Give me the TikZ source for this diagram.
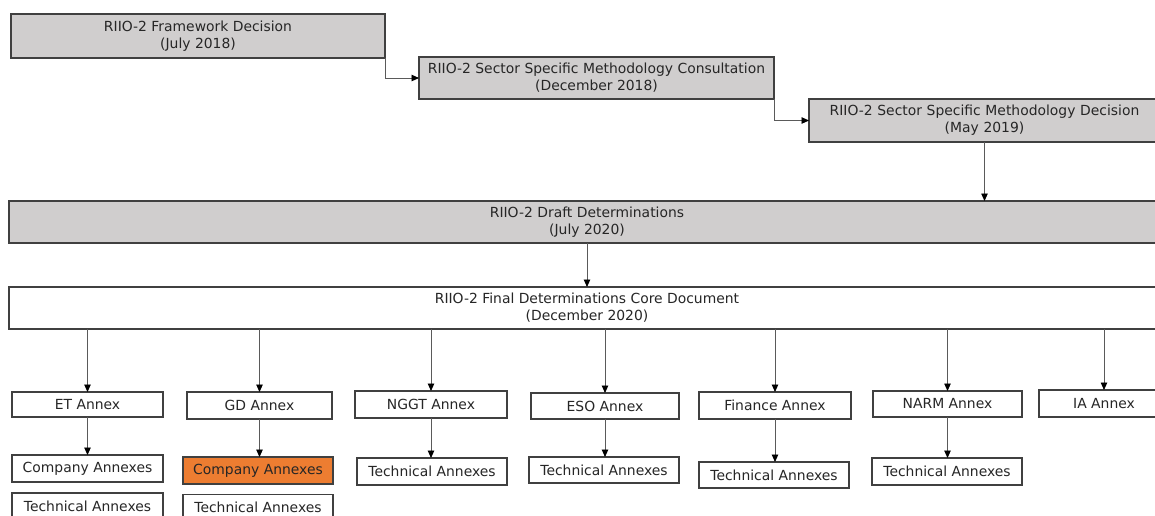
\documentclass[tikz,border=0pt]{standalone}
\usepackage{fontspec}
\setmainfont{DejaVu Sans}
\usetikzlibrary{arrows.meta}
\definecolor{boxgray}{RGB}{208,206,206}
\definecolor{edge}{RGB}{64,64,64}
\definecolor{wire}{RGB}{90,90,90}
\definecolor{txt}{RGB}{38,38,38}
\definecolor{orangefill}{RGB}{237,125,49}
\tikzset{
  bx/.style={draw=edge, line width=1.3pt, rectangle, inner sep=0pt, outer sep=0pt,
    align=center, text=txt, font=\fontsize{13.9}{17}\selectfont},
  graybox/.style={bx, fill=boxgray},
  whitebox/.style={bx, fill=white},
  orangebox/.style={bx, fill=orangefill},
  conn/.style={draw=wire, line width=0.9pt, -{Triangle[length=7.5pt,width=6.5pt,color=black]}},
}
\begin{document}
\begin{tikzpicture}[x=1pt,y=-1pt]
\useasboundingbox (0,0) rectangle (1155,515);
\clip (0,0) rectangle (1155,515);
% top chain
\node[graybox, minimum width=374pt, minimum height=44pt] (fw) at (198,36)
  {RIIO-2 Framework Decision\\(July 2018)};
\node[graybox, minimum width=355pt, minimum height=42pt] (ssmc) at (596.5,78)
  {RIIO-2 Sector Specific Methodology Consultation\\(December 2018)};
\node[graybox, minimum width=351pt, minimum height=43pt, text width=351pt] (ssmd) at (984.5,120.5)
  {RIIO-2 Sector Specific Methodology Decision\\(May 2019)};
\node[graybox, minimum width=1156pt, minimum height=42pt] (draft) at (587,222)
  {RIIO-2 Draft Determinations\\(July 2020)};
\node[whitebox, minimum width=1156pt, minimum height=42pt] (final) at (587,308)
  {RIIO-2 Final Determinations Core Document\\(December 2020)};
% annex row
\node[whitebox, minimum width=151pt, minimum height=25pt] (et) at (87.5,404.5) {ET Annex};
\node[whitebox, minimum width=145pt, minimum height=27pt] (gd) at (259.5,405.5) {GD Annex};
\node[whitebox, minimum width=152pt, minimum height=27pt] (nggt) at (431,404.5) {NGGT Annex};
\node[whitebox, minimum width=148pt, minimum height=26pt] (eso) at (605,406) {ESO Annex};
\node[whitebox, minimum width=152pt, minimum height=27pt] (fin) at (775,405.5) {Finance Annex};
\node[whitebox, minimum width=149pt, minimum height=26pt] (narm) at (947.5,404) {NARM Annex};
\node[whitebox, minimum width=130pt, minimum height=27pt] (ia) at (1104,403.5) {IA Annex};
% second level
\node[whitebox, minimum width=151pt, minimum height=27pt] (etc) at (87.5,468.5) {Company Annexes};
\node[whitebox, minimum width=151pt, minimum height=26pt] (ett) at (87.5,506) {Technical Annexes};
\node[orangebox, minimum width=150pt, minimum height=27pt] (gdc) at (258,470.5) {Company Annexes};
\node[whitebox, minimum width=150pt, minimum height=26pt] (gdt) at (258,507.5) {Technical Annexes};
\node[whitebox, minimum width=150pt, minimum height=27pt] (nggtt) at (432,471.5) {Technical Annexes};
\node[whitebox, minimum width=150pt, minimum height=26pt] (esot) at (604,470) {Technical Annexes};
\node[whitebox, minimum width=150pt, minimum height=26pt] (fint) at (774,475) {Technical Annexes};
\node[whitebox, minimum width=150pt, minimum height=27pt] (narmt) at (947,471.5) {Technical Annexes};
% connectors
\draw[conn] (fw.south east) |- (ssmc.west);
\draw[conn] (ssmc.south east) |- (ssmd.west);
\draw[conn] (ssmd.south) -- (ssmd.south |- draft.north);
\draw[conn] (draft.south) -- (final.north);
\foreach \n in {et,gd,nggt,eso,fin,narm,ia}{
  \draw[conn] (\n.north |- final.south) -- (\n.north);
}
\draw[conn] (et.south) -- (et.south |- etc.north);
\draw[conn] (gd.south) -- (gd.south |- gdc.north);
\draw[conn] (nggt.south) -- (nggt.south |- nggtt.north);
\draw[conn] (eso.south) -- (eso.south |- esot.north);
\draw[conn] (fin.south) -- (fin.south |- fint.north);
\draw[conn] (narm.south) -- (narm.south |- narmt.north);
\end{tikzpicture}
\end{document}
